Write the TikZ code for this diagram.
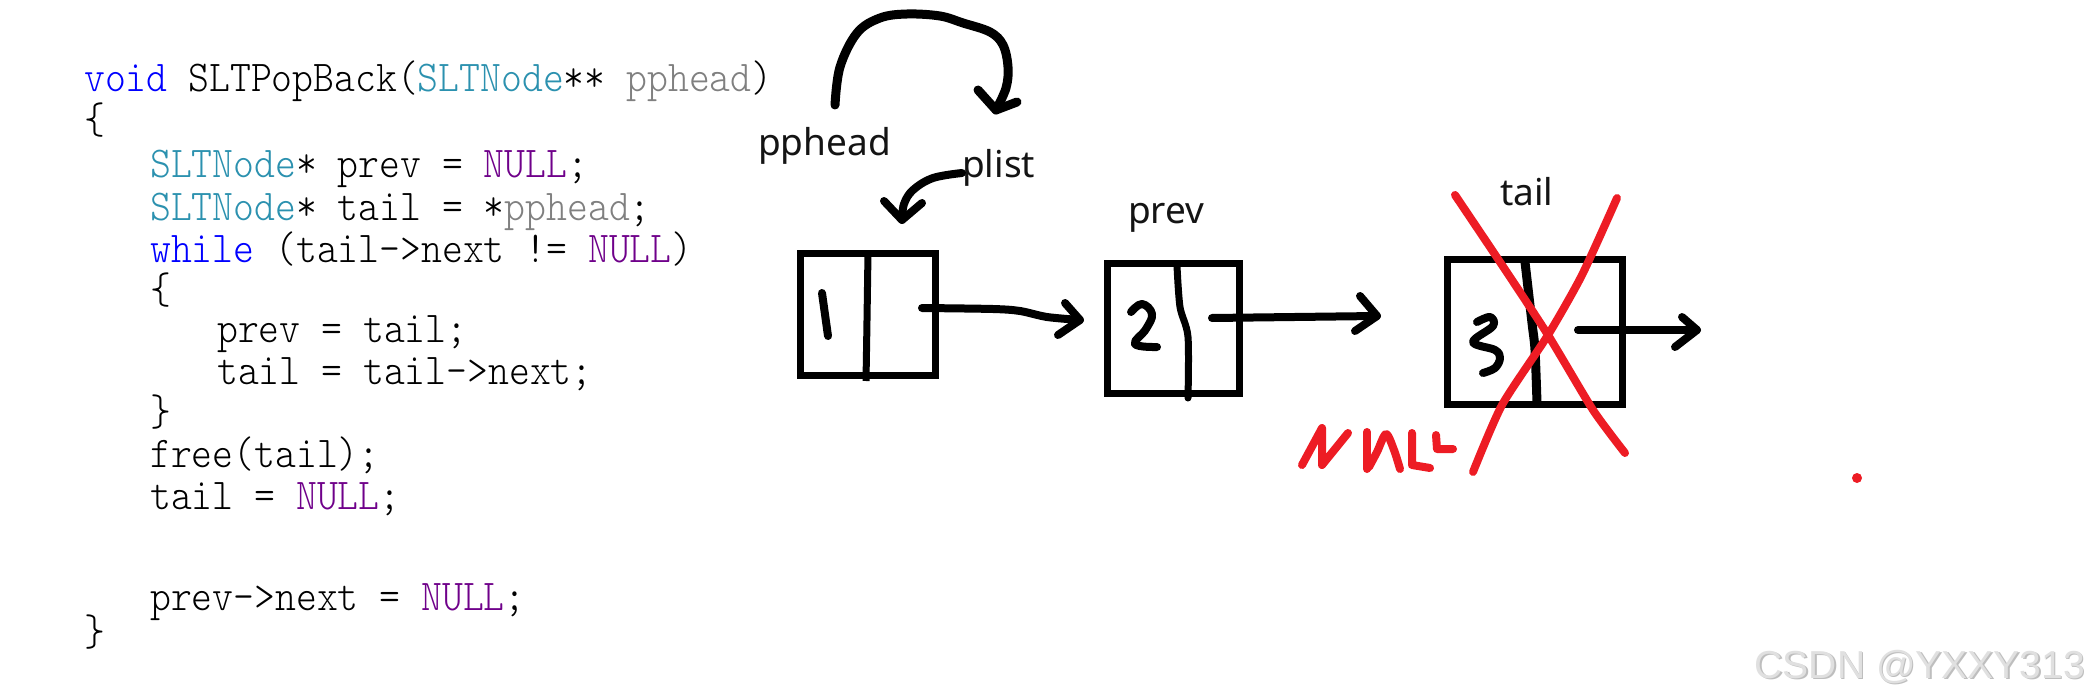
\documentclass[tikz,border=0pt]{standalone}
\usepackage{fontspec}
\newfontfamily\codefont{Latin Modern Mono Light}[FakeStretch=0.903]
\newfontfamily\labelfont{Noto Sans}
\newfontfamily\wmfont{Liberation Sans}
\definecolor{kwblue}{RGB}{0,0,255}
\definecolor{typeteal}{RGB}{43,145,175}
\definecolor{macropurple}{RGB}{111,0,138}
\definecolor{paramgray}{RGB}{128,128,128}
\definecolor{redink}{RGB}{237,28,36}
\definecolor{wmgray}{RGB}{224,224,224}
\definecolor{wmshadow}{RGB}{190,190,190}
\tikzset{
  codeline/.style={anchor=base west, inner sep=0pt, font=\codefont\fontsize{44pt}{44pt}\selectfont},
  lbl/.style={anchor=base west, inner sep=0pt, font=\labelfont\fontsize{37pt}{37pt}\selectfont, text={rgb,255:red,20;green,20;blue,20}},
  cellbox/.style={draw=black, line width=7pt, rectangle, inner sep=0pt},
  ink/.style={draw=black, line width=8pt, line cap=round, line join=round},
  redstroke/.style={draw=redink, line width=8pt, line cap=round, line join=round},
}
\begin{document}
\begin{tikzpicture}[x=1pt,y=-1pt]
\fill[white] (0,0) rectangle (2088,698);
\useasboundingbox (0,0) rectangle (2088,698);

% ---------------- code ----------------
\node[codeline] (c1) at (84,92) {\textcolor{kwblue}{void} SLTPopBack(\textcolor{typeteal}{SLTNode}** \textcolor{paramgray}{pphead})};
\node[codeline] (c2) at (84,134) {\{};
\node[codeline] (c3) at (150,177) {\textcolor{typeteal}{SLTNode}* prev = \textcolor{macropurple}{NULL};};
\node[codeline] (c4) at (150,220) {\textcolor{typeteal}{SLTNode}* tail = *\textcolor{paramgray}{pphead};};
\node[codeline] (c5) at (150,262) {\textcolor{kwblue}{while} (tail->next != \textcolor{macropurple}{NULL})};
\node[codeline] (c6) at (150,303) {\{};
\node[codeline] (c7) at (217,342) {prev = tail;};
\node[codeline] (c8) at (217,384) {tail = tail->next;};
\node[codeline] (c9) at (150,425) {\}};
\node[codeline] (c10) at (150,467) {free(tail);};
\node[codeline] (c11) at (150,509) {tail = \textcolor{macropurple}{NULL};};
\node[codeline] (c13) at (150,610) {prev->next = \textcolor{macropurple}{NULL};};
\node[codeline] (c14) at (84,645) {\}};

% ---------------- labels ----------------
\node[lbl] (lpphead) at (758,155) {pphead};
\node[lbl] (lplist) at (962,178) {plist};
\node[lbl] (lprev) at (1128,223) {prev};
\node[lbl] (ltail) at (1500,205) {tail};

% ---------------- boxes ----------------
\node[cellbox, minimum width=135pt, minimum height=122pt] (b1) at (867.5,314) {};
\node[cellbox, minimum width=132pt, minimum height=130pt] (b2) at (1173,328) {};
\node[cellbox, minimum width=174.5pt, minimum height=144.5pt] (b3) at (1535,332) {};

% dividers
\draw[ink, line width=7pt, line cap=butt] plot[smooth] coordinates {(868,252) (867,320) (866,381)};
\draw[ink, line width=7pt] plot[smooth] coordinates {(1177,266) (1180,307) (1188,337) (1188,398)};
\draw[ink, line width=9pt, line cap=butt] plot[smooth] coordinates {(1525,262) (1532,323) (1535,350) (1537,403)};

% digits
\draw[ink] (822,293) -- (828,336);
\draw[ink] plot[smooth, tension=0.7] coordinates {(1131,312) (1142,304) (1152,314) (1146,329) (1135,344) (1157,347)};
\draw[ink] plot[smooth, tension=0.6] coordinates {(1477,322) (1490,317) (1493,326) (1473,342) (1495,350) (1500,358) (1495,368) (1483,373)};

% ---------------- arrows ----------------
% pphead -> plist (big curve)
\coordinate (ppstart) at (835,105);
\coordinate (pptip) at (996,110);
\draw[ink, line width=9pt] plot[smooth, tension=0.6] coordinates {(ppstart) (840,67) (857,33) (880,18) (907,14) (940,16) (963,23) (990,32) (1003,45) (1008,67) (1006,88) (pptip)};
\draw[ink, line width=9pt] (978,90) -- (pptip) -- (1017,102);

% plist -> box 1
\coordinate (plstart) at (962,173);
\coordinate (pltip) at (902,220);
\draw[ink] plot[smooth, tension=0.6] coordinates {(plstart) (933,178) (913,190) (904,204) (pltip)};
\draw[ink] (884,201) -- (pltip) -- (922,203);

% box 1 -> box 2
\coordinate (a1s) at (922,308);
\coordinate (a1t) at (1080,320);
\draw[ink] plot[smooth, tension=0.5] coordinates {(a1s) (993,309) (1020,311) (1047,317) (a1t)};
\draw[ink] (1065,303) -- (a1t) -- (1058,335);

% box 2 -> box 3
\coordinate (a2s) at (1212,318);
\coordinate (a2t) at (1377,316);
\draw[ink] (a2s) -- (a2t);
\draw[ink] (1360,296) -- (a2t) -- (1355,331);

% box 3 -> next
\coordinate (a3s) at (1578,330);
\coordinate (a3t) at (1697,330);
\draw[ink] (a3s) -- (a3t);
\draw[ink] (1682,317) -- (a3t) -- (1675,347);

% ---------------- red marks ----------------
\draw[redstroke] plot[smooth, tension=0.4] coordinates {(1455,195) (1500,262) (1548,335) (1593,410) (1625,453)};
\draw[redstroke] plot[smooth, tension=0.4] coordinates {(1617,198) (1582,275) (1548,335) (1502,405) (1473,472)};
% NULL
\draw[redstroke] (1302,465) -- (1322,428) -- (1322,465) -- (1348,433);
\draw[redstroke] (1367,432) -- (1367,469);
\draw[redstroke] plot[smooth, tension=0.5] coordinates {(1369,467) (1377,452) (1386,434) (1394,450) (1400,469)};
\draw[redstroke] (1412,433) -- (1412,465) -- (1430,468);
\draw[redstroke] (1436,435) -- (1437,449) -- (1453,449);
\fill[redink] (1857,478) circle (5);

% ---------------- watermark ----------------
\node[anchor=base east, inner sep=0pt, font=\wmfont\fontsize{39pt}{39pt}\selectfont, text=wmshadow] (wms) at (2086.5,679.5) {CSDN @YXXY313};
\node[anchor=base east, inner sep=0pt, font=\wmfont\fontsize{39pt}{39pt}\selectfont, text=wmgray] (wm) at (2085,678) {CSDN @YXXY313};
\end{tikzpicture}
\end{document}
